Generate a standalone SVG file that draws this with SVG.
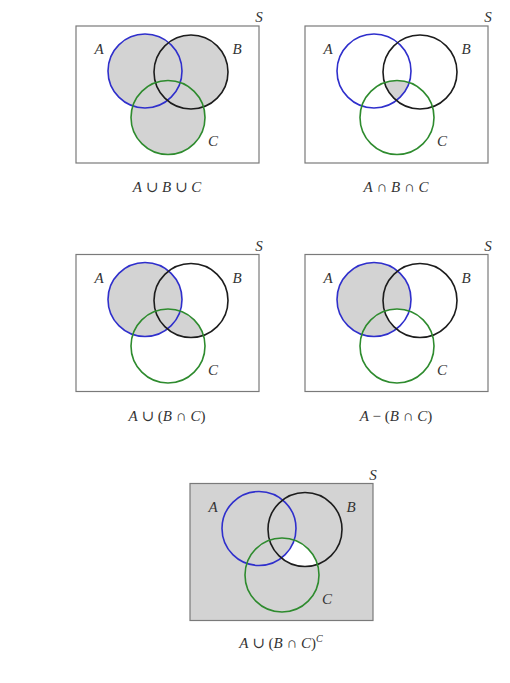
<svg xmlns="http://www.w3.org/2000/svg" width="510" height="683" viewBox="0 0 510 683">
<style>
.frame{fill:none;stroke:#7a7a7a;stroke-width:1.2}
.ca{fill:none;stroke:#2f2fcc;stroke-width:1.6}
.cb{fill:none;stroke:#1c1c1c;stroke-width:1.6}
.cc{fill:none;stroke:#2e8b2e;stroke-width:1.6}
.sh{fill:#d3d3d3}
.wh{fill:#ffffff}
.lbl{font-family:"Liberation Serif","DejaVu Serif",serif;font-style:italic;font-size:15px;fill:#333;text-anchor:middle}
.cap{font-family:"Liberation Serif","DejaVu Serif",serif;font-size:15px;fill:#333;text-anchor:middle}
.it{font-style:italic}
</style>
<defs>
<clipPath id="clipA" clipPathUnits="userSpaceOnUse"><circle cx="145" cy="71" r="37"/></clipPath>
<clipPath id="clipB" clipPathUnits="userSpaceOnUse"><circle cx="191" cy="72" r="37"/></clipPath>
<clipPath id="clipC" clipPathUnits="userSpaceOnUse"><circle cx="168" cy="117.5" r="37"/></clipPath>
<g id="outlines">
<rect class="frame" x="76" y="26" width="183" height="137"/>
<circle class="ca" cx="145" cy="71" r="37"/>
<circle class="cb" cx="191" cy="72" r="37"/>
<circle class="cc" cx="168" cy="117.5" r="37"/>
<text class="lbl" x="99" y="54">A</text>
<text class="lbl" x="237" y="54">B</text>
<text class="lbl" x="213" y="146">C</text>
<text class="lbl" x="259" y="22">S</text>
</g>
</defs>

<g id="d1">
<circle class="sh" cx="145" cy="71" r="37"/>
<circle class="sh" cx="191" cy="72" r="37"/>
<circle class="sh" cx="168" cy="117.5" r="37"/>
<use href="#outlines"/>
<text class="cap" x="167" y="192"><tspan class="it">A</tspan> ∪ <tspan class="it">B</tspan> ∪ <tspan class="it">C</tspan></text>
</g>

<g id="d2" transform="translate(229,0)">
<g clip-path="url(#clipC)"><circle class="sh" cx="145" cy="71" r="37" clip-path="url(#clipB)"/></g>
<use href="#outlines"/>
<text class="cap" x="167" y="192"><tspan class="it">A</tspan> ∩ <tspan class="it">B</tspan> ∩ <tspan class="it">C</tspan></text>
</g>

<g id="d3" transform="translate(0,228.5)">
<circle class="sh" cx="145" cy="71" r="37"/>
<circle class="sh" cx="191" cy="72" r="37" clip-path="url(#clipC)"/>
<use href="#outlines"/>
<text class="cap" x="167" y="192"><tspan class="it">A</tspan> ∪ (<tspan class="it">B</tspan> ∩ <tspan class="it">C</tspan>)</text>
</g>

<g id="d4" transform="translate(229,228.5)">
<circle class="sh" cx="145" cy="71" r="37"/>
<circle class="wh" cx="191" cy="72" r="37" clip-path="url(#clipC)"/>
<use href="#outlines"/>
<text class="cap" x="167" y="192"><tspan class="it">A</tspan> − (<tspan class="it">B</tspan> ∩ <tspan class="it">C</tspan>)</text>
</g>

<g id="d5" transform="translate(114,457.5)">
<rect class="sh" x="76" y="26" width="183" height="137"/>
<circle class="wh" cx="191" cy="72" r="37" clip-path="url(#clipC)"/>
<circle class="sh" cx="145" cy="71" r="37"/>
<use href="#outlines"/>
<text class="cap" x="167" y="190"><tspan class="it">A</tspan> ∪ (<tspan class="it">B</tspan> ∩ <tspan class="it">C</tspan>)<tspan class="it" font-size="10" dy="-6">C</tspan></text>
</g>
</svg>
